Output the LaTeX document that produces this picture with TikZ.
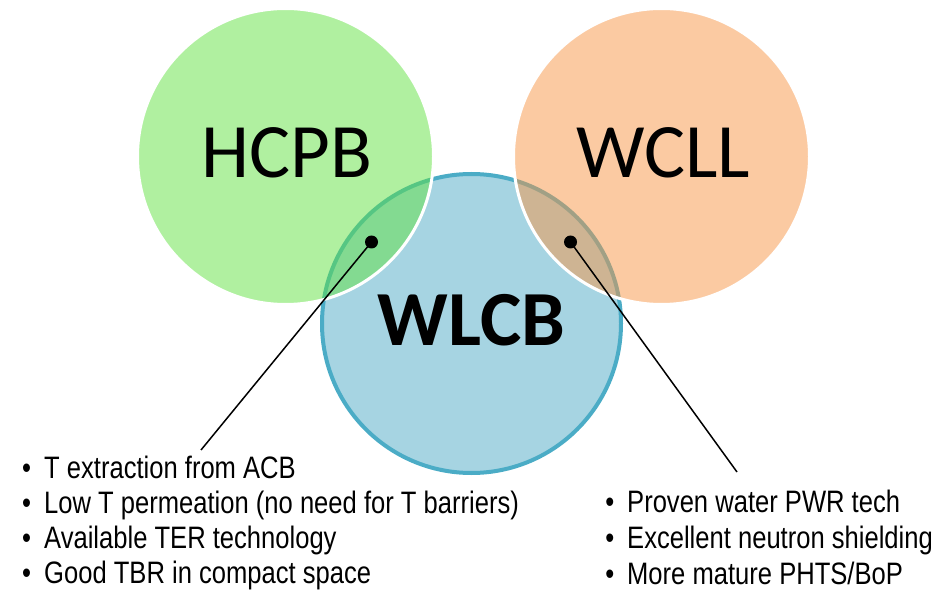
\documentclass[tikz,border=0pt]{standalone}
\usepackage{fontspec}
\setmainfont{Carlito}
\newfontfamily\narrowsans{Liberation Sans}[FakeStretch=0.825]
\usetikzlibrary{positioning}

\definecolor{wlcbfill}{RGB}{166,212,226}
\definecolor{wlcbline}{RGB}{75,172,198}
\definecolor{hcpbfill}{RGB}{97,225,65}
\definecolor{wcllfill}{RGB}{247,150,70}

\tikzset{
	venn/.style={fill opacity=0.5, draw=white, line width=3pt},
	bigname/.style={font=\fontsize{77}{80}\selectfont, inner sep=0},
	pindot/.style={circle, fill=black, inner sep=0, minimum size=13pt},
	pinline/.style={line width=1.5pt},
	bulletline/.style={anchor=base west, inner sep=0, font=\narrowsans\fontsize{31}{35}\selectfont},
}
\newcommand{\itm}{\llap{\textbullet\hspace{13pt}}}

\begin{document}
\begin{tikzpicture}[x=1pt, y=-1pt]
		%%%%% START %%%%%
		\useasboundingbox (0, 0) rectangle (951, 596);
		
		% water cooled lithium ceramic blanket, underneath
		\draw[fill=wlcbfill, draw=wlcbline, line width=4pt] (471.5, 323.5) circle[radius=149.5pt];
		
		% the two reference blankets, see-through
		\draw[venn, fill=hcpbfill] (285.5, 156.5) circle[radius=148pt];
		\draw[venn, fill=wcllfill] (661.5, 156.5) circle[radius=148pt];
		
		\node[bigname] (hcpb) at (287, 153) {HCPB};
		\node[bigname] (wcll) at (663, 153) {WCLL};
		\node[bigname, font=\fontsize{78}{80}\selectfont\bfseries] (wlcb) at (471.5, 320) {WLCB};
		
		% pins into the overlaps
		\node[pindot] (hcpbdot) at (371.5, 242) {};
		\node[pindot] (wclldot) at (570.5, 242) {};
		\coordinate (hcpbend) at (201, 450);
		\coordinate (wcllend) at (737, 472);
		\draw[pinline] (hcpbdot.center) -- (hcpbend);
		\draw[pinline] (wclldot.center) -- (wcllend);
		
		% shared with HCPB
		\node[bulletline] (hcpb1) at (44, 478) {\itm T extraction from ACB};
		\node[bulletline] (hcpb2) at (44, 513) {\itm Low T permeation (no need for T barriers)};
		\node[bulletline] (hcpb3) at (44, 548) {\itm Available TER technology};
		\node[bulletline] (hcpb4) at (44, 583) {\itm Good TBR in compact space};
		
		% shared with WCLL
		\node[bulletline] (wcll1) at (627, 512) {\itm Proven water PWR tech};
		\node[bulletline] (wcll2) at (627, 548) {\itm Excellent neutron shielding};
		\node[bulletline] (wcll3) at (627, 584) {\itm More mature PHTS/BoP};
		
		%%%%% END %%%%%
\end{tikzpicture}
\end{document}
